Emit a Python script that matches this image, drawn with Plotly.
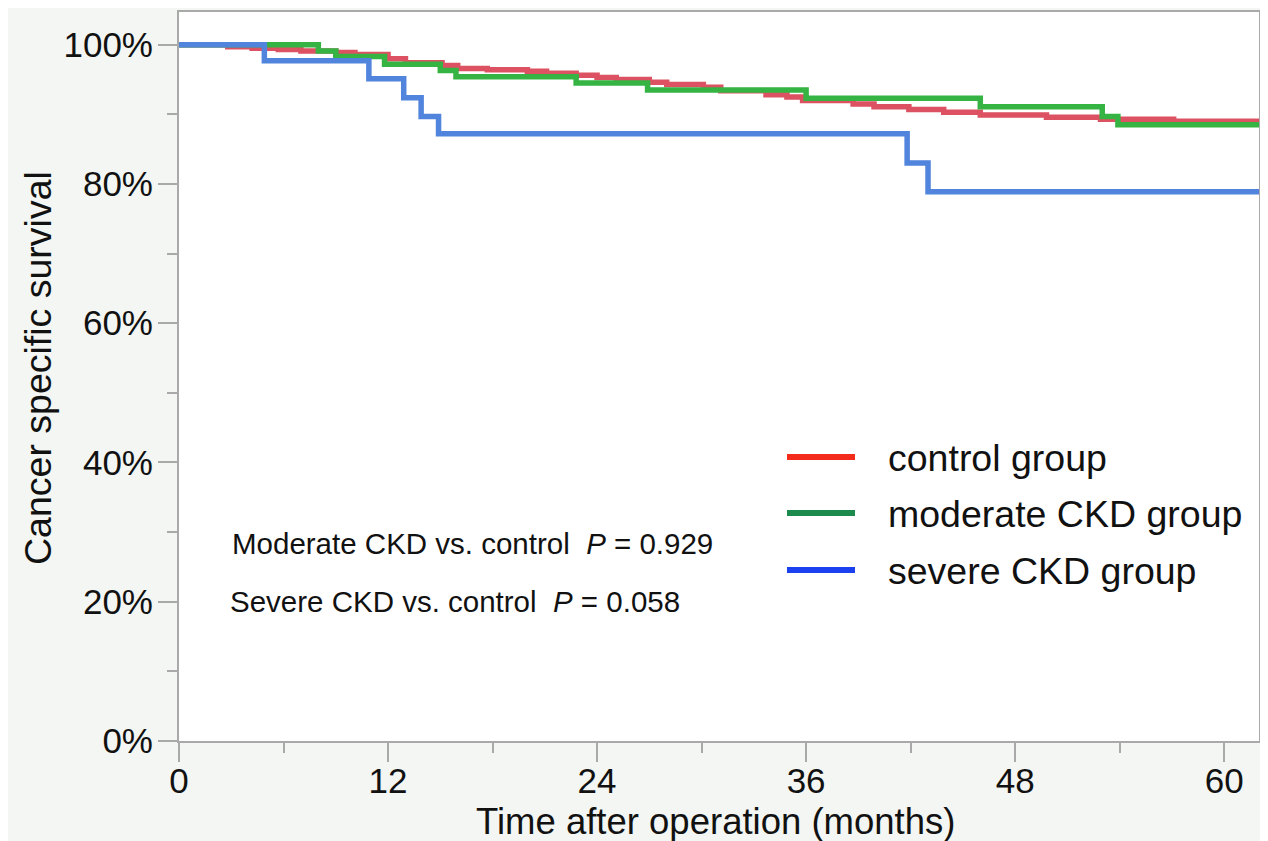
import plotly.graph_objects as go

# ---- data (months, survival %) ----
months_control = [0, 2.8, 4.2, 5.7, 7.0, 9.0, 10.1, 12.0, 13.0, 15.1, 16.0, 17.7, 20.0, 21.1,
                  22.8, 24.0, 25.1, 27.0, 28.0, 30.1, 31.1, 33.7, 34.9, 35.8, 38.7, 39.9,
                  41.9, 43.9, 46.0, 49.8, 52.9, 57.1, 62.0]
surv_control = [100, 99.7, 99.5, 99.3, 99.1, 98.9, 98.6, 98.0, 97.4, 97.0, 96.6, 96.4, 96.2,
                95.9, 95.6, 95.3, 95.0, 94.6, 94.3, 93.9, 93.4, 92.8, 92.5, 92.0, 91.5, 91.1,
                90.7, 90.3, 89.9, 89.6, 89.3, 89.0, 89.0]

months_moderate = [0, 8.0, 9.0, 11.8, 15.0, 15.9, 22.8, 26.9, 36.0, 46.0, 53.0, 53.9, 62.0]
surv_moderate = [100, 99.1, 98.3, 97.2, 96.3, 95.4, 94.5, 93.5, 92.3, 91.1, 89.7, 88.5, 88.5]

months_severe = [0, 4.9, 10.9, 12.9, 13.9, 14.9, 41.8, 43.0, 62.0]
surv_severe = [100, 97.7, 95.1, 92.4, 89.7, 87.2, 83.0, 78.9, 78.9]

group_names = ["control group", "moderate CKD group", "severe CKD group"]
x_ticks = [0, 12, 24, 36, 48, 60]
y_ticks = [0, 20, 40, 60, 80, 100]
p_texts = ["Moderate CKD vs. control\u00a0 <i>P</i>\u00a0=\u00a00.929",
           "Severe CKD vs. control\u00a0 <i>P</i>\u00a0=\u00a00.058"]
x_title = "Time after operation (months)"
y_title = "Cancer specific survival"

# ---- styles ----
line_colors = ["#dc5262", "#36b443", "#5184dc"]
legend_colors = ["#f42c1c", "#1b8a4c", "#1a40f0"]
FONT = "Liberation Sans, Arial, Helvetica, sans-serif"
AXIS_GREY = "#a9a9a9"
TXT = "#111111"

# page body has an 8px default margin: compensate so the plot lands where the reference has it
OFF = 8
W, H = 1268 - OFF, 841 - OFF
PL, PT, PR, PB = 179, 12, 1259, 741          # plot area in screen pixels
L, T = PL - OFF, PT - OFF
R, B = W - (PR - OFF), H - (PB - OFF)
PW, PH = PR - PL, PB - PT


def scr2paper(x, y):
    return (x - PL) / PW, (PB - y) / PH


fig = go.Figure()
series = [(months_control, surv_control), (months_moderate, surv_moderate),
          (months_severe, surv_severe)]
for (xs, ys), name, col in zip(series, group_names, line_colors):
    fig.add_trace(go.Scatter(x=xs, y=ys, mode="lines", name=name, showlegend=False,
                             line=dict(color=col, width=5.5, shape="hv")))

shapes = []
annotations = []
legend_rows_y = [457, 513, 570]
for name, col, yy in zip(group_names, legend_colors, legend_rows_y):
    x0, y0 = scr2paper(787, yy)
    x1, _ = scr2paper(855, yy)
    shapes.append(dict(type="line", xref="paper", yref="paper", x0=x0, x1=x1, y0=y0, y1=y0,
                       line=dict(color=col, width=6)))
    tx, ty = scr2paper(886, yy + 1)
    annotations.append(dict(text=name, xref="paper", yref="paper", x=tx, y=ty,
                            xanchor="left", yanchor="middle", showarrow=False,
                            font=dict(family=FONT, size=37.5, color=TXT)))

for txt, (xx, yy) in zip(p_texts, [(230, 543), (228, 601)]):
    ax, ay = scr2paper(xx, yy)
    annotations.append(dict(text=txt, xref="paper", yref="paper", x=ax, y=ay,
                            xanchor="left", yanchor="middle", showarrow=False,
                            font=dict(family=FONT, size=29.5, color=TXT)))

# axis titles
tx, ty = scr2paper((PL + PR) / 2 - 4, 821)
annotations.append(dict(text=x_title, xref="paper", yref="paper", x=tx, y=ty,
                        xanchor="center", yanchor="middle", showarrow=False,
                        font=dict(family=FONT, size=36.5, color=TXT)))
tx, ty = scr2paper(38, 368)
annotations.append(dict(text=y_title, xref="paper", yref="paper", x=tx, y=ty,
                        xanchor="center", yanchor="middle", showarrow=False, textangle=-90,
                        font=dict(family=FONT, size=37.5, color=TXT)))

fig.update_layout(
    width=W, height=H,
    margin=dict(l=L, r=R, t=T, b=B, autoexpand=False),
    paper_bgcolor="#f3f6f2",
    plot_bgcolor="#ffffff",
    font=dict(family=FONT, color=TXT),
    shapes=shapes,
    annotations=annotations,
    showlegend=False,
)

fig.update_xaxes(
    range=[0, 62], tickvals=x_ticks, ticktext=[str(v) for v in x_ticks],
    ticks="outside", ticklen=19, tickwidth=2, tickcolor=AXIS_GREY,
    showline=True, linecolor=AXIS_GREY, linewidth=2, mirror=True,
    showgrid=False, zeroline=False, ticklabelstandoff=-11,
    tickfont=dict(family=FONT, size=35, color=TXT),
    minor=dict(dtick=6, ticks="outside", ticklen=10, tickwidth=2, tickcolor=AXIS_GREY,
               showgrid=False),
)
fig.update_yaxes(
    range=[0, 104.7], tickvals=y_ticks, ticktext=[f"{v}%" for v in y_ticks],
    ticks="outside", ticklen=19, tickwidth=2, tickcolor=AXIS_GREY,
    showline=True, linecolor=AXIS_GREY, linewidth=2, mirror=True,
    showgrid=False, zeroline=False, ticklabelstandoff=-2,
    tickfont=dict(family=FONT, size=35, color=TXT),
    minor=dict(dtick=10, ticks="outside", ticklen=10, tickwidth=2, tickcolor=AXIS_GREY,
               showgrid=False),
)

fig.write_html("out.html")
